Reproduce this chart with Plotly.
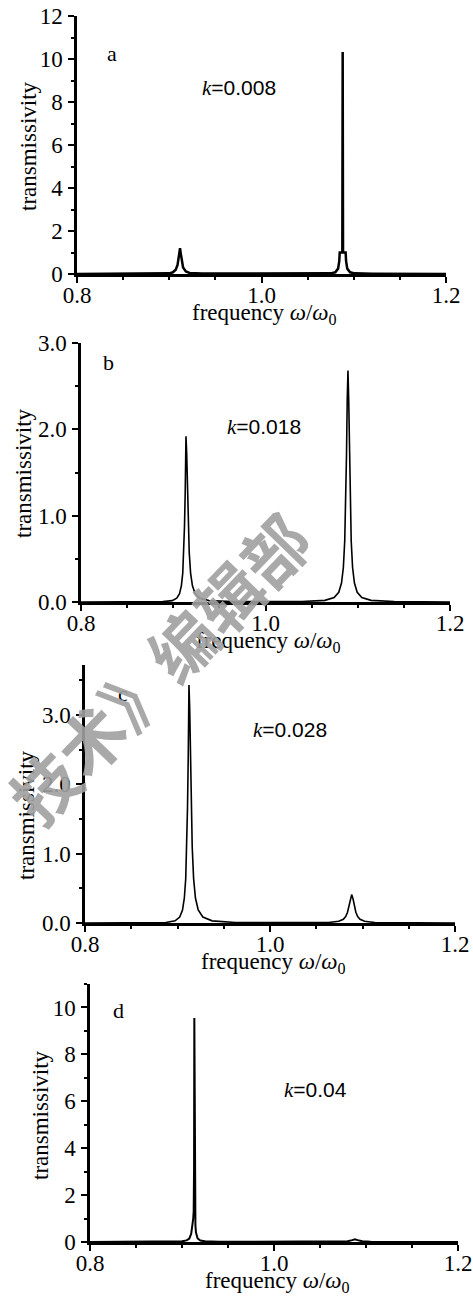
import plotly.graph_objects as go

W, H = 473, 1300

# ---------------- data ----------------
freq_a = [0.800, 0.880, 0.900, 0.904, 0.907, 0.909, 0.910, 0.911, 0.9117, 0.9125, 0.9135,
          0.915, 0.918, 0.922, 0.935, 1.060, 1.075, 1.080, 1.083, 1.0843, 1.0848, 1.0876,
          1.0880, 1.0884, 1.0912, 1.0917, 1.093, 1.096, 1.101, 1.120, 1.200]
trans_a = [0.00, 0.01, 0.03, 0.08, 0.20, 0.42, 0.70, 0.98, 1.20, 0.95, 0.60,
           0.30, 0.12, 0.05, 0.02, 0.01, 0.03, 0.08, 0.25, 0.60, 1.00, 1.00,
           10.33, 1.00, 1.00, 0.60, 0.25, 0.08, 0.03, 0.01, 0.00]

freq_b = [0.800, 0.8638, 0.8888, 0.8988, 0.9038, 0.9068, 0.9088, 0.9103, 0.9113, 0.9122, 0.9130,
          0.9138, 0.9146, 0.9154, 0.9163, 0.9173, 0.9188, 0.9208, 0.9238, 0.9288, 0.9388, 0.9638,
          1.0394, 1.0644, 1.0744, 1.0794, 1.0824, 1.0844, 1.0859, 1.0869, 1.0878, 1.0886,
          1.0894, 1.0902, 1.0910, 1.0919, 1.0929, 1.0944, 1.0964, 1.0994, 1.1044, 1.1144,
          1.1394, 1.200]
trans_b = [0.000, 0.002, 0.004, 0.016, 0.044, 0.096, 0.187, 0.335, 0.58, 0.88, 1.29,
           1.92, 1.71, 1.29, 0.88, 0.58, 0.335, 0.187, 0.096, 0.044, 0.016, 0.004,
           0.005, 0.019, 0.052, 0.113, 0.22, 0.40, 0.71, 1.11, 1.70, 2.34,
           2.68, 2.34, 1.70, 1.11, 0.71, 0.40, 0.22, 0.113, 0.052, 0.019,
           0.005, 0.000]

freq_c = [0.800, 0.8624, 0.8874, 0.8974, 0.9024, 0.9054, 0.9074, 0.9089, 0.9099, 0.9108, 0.9116,
          0.9124, 0.9132, 0.9140, 0.9149, 0.9159, 0.9174, 0.9194, 0.9224, 0.9274, 0.9374, 0.9624,
          1.0633, 1.0743, 1.0793, 1.0818, 1.0838, 1.0853, 1.0868, 1.0883, 1.0898, 1.0913,
          1.0928, 1.0948, 1.0973, 1.1023, 1.1133, 1.200]
trans_c = [0.000, 0.002, 0.008, 0.031, 0.086, 0.187, 0.36, 0.64, 1.10, 1.65, 2.38,
           3.43, 3.09, 2.38, 1.65, 1.10, 0.64, 0.36, 0.187, 0.086, 0.031, 0.008,
           0.008, 0.024, 0.054, 0.092, 0.155, 0.236, 0.346, 0.41, 0.346, 0.236,
           0.155, 0.092, 0.054, 0.024, 0.008, 0.000]

freq_d = [0.800, 0.880, 0.900, 0.905, 0.908, 0.910, 0.9115, 0.9122, 0.9127, 0.9131, 0.9134,
          0.9137, 0.9141, 0.9146, 0.9152, 0.917, 0.920, 0.925, 0.940, 1.070, 1.080, 1.085,
          1.088, 1.091, 1.096, 1.105, 1.200]
trans_d = [0.00, 0.01, 0.03, 0.07, 0.15, 0.35, 0.75, 1.00, 1.30, 3.10, 9.55,
           3.10, 1.00, 0.70, 0.40, 0.15, 0.06, 0.03, 0.01, 0.01, 0.03, 0.08,
           0.12, 0.08, 0.03, 0.01, 0.00]

panel_letters = ["a", "b", "c", "d"]
k_labels = ["0.008", "0.018", "0.028", "0.04"]
y_ranges = [[0, 12], [0, 3], [0, 3.72], [0, 11]]
y_dticks = [2, 1, 1, 2]
y_minor = [1, 0.5, 0.5, 1]
y_formats = ["d", ".1f", ".1f", "d"]
series = [(freq_a, trans_a), (freq_b, trans_b), (freq_c, trans_c), (freq_d, trans_d)]

# ---------------- layout geometry (pixels in the reference) ----------------
# (x_left, x_right, y_top, y_bottom)
boxes = [(77, 446, 16, 274), (81, 450, 343, 602), (85, 455, 665, 923), (90, 458, 984, 1242)]
line_widths = [2.5, 1.6, 1.6, 2.0]
ytitle_pos = [(28, 146), (24, 473), (26, 815), (40, 1115)]
letter_pos = [(112, 53), (108, 363), (123, 693), (118, 1010)]
k_pos = [(239, 88), (264, 427), (290, 730), (315, 1090)]


def px(x):
    return x / W


def py(y):
    return 1 - y / H


SERIF = "Liberation Serif"
SANS = "Liberation Sans"

fig = go.Figure()
annotations = []
layout = dict(
    width=W, height=H, margin=dict(l=0, r=0, t=0, b=0, autoexpand=False),
    paper_bgcolor="white", plot_bgcolor="white", showlegend=False,
    font=dict(family=SERIF, color="black", size=23),
)

for i, ((fx, ty), (x0, x1, y0, y1)) in enumerate(zip(series, boxes)):
    n = "" if i == 0 else str(i + 1)
    fig.add_trace(go.Scatter(x=fx, y=ty, mode="lines", xaxis="x" + n, yaxis="y" + n,
                             line=dict(color="black", width=line_widths[i]),
                             hoverinfo="skip", cliponaxis=False))
    layout["xaxis" + n] = dict(
        domain=[px(x0), px(x1)], anchor="y" + n, range=[0.8, 1.2],
        tickvals=[0.8, 1.0, 1.2], ticktext=["0.8", "1.0", "1.2"],
        ticks="outside", ticklen=6, tickwidth=2, tickcolor="black",
        minor=dict(dtick=0.05, tick0=0.8, ticks="outside", ticklen=3, tickwidth=1.5, tickcolor="black"),
        showline=True, linecolor="black", linewidth=2.5, showgrid=False, zeroline=False,
        tickfont=dict(family=SERIF, size=23, color="black"), ticklabelstandoff=-7,
        ticklabeloverflow="allow", fixedrange=True, automargin=False,
    )
    layout["yaxis" + n] = dict(
        domain=[py(y1), py(y0)], anchor="x" + n, range=y_ranges[i],
        dtick=y_dticks[i], tick0=0, tickformat=y_formats[i],
        ticks="outside", ticklen=6, tickwidth=2, tickcolor="black",
        minor=dict(dtick=y_minor[i], tick0=0, ticks="outside", ticklen=3, tickwidth=1.5, tickcolor="black"),
        showline=True, linecolor="black", linewidth=2.5, showgrid=False, zeroline=False,
        tickfont=dict(family=SERIF, size=23, color="black"), ticklabelstandoff=1,
        ticklabeloverflow="allow", fixedrange=True, automargin=False,
    )
    # axis titles
    annotations.append(dict(
        x=px((x0 + x1) / 2 + 3), y=py(y1 + 40), xref="paper", yref="paper",
        text="frequency <i>ω</i>/<i>ω</i><sub>0</sub>", showarrow=False,
        xanchor="center", yanchor="middle", font=dict(family=SERIF, size=23, color="black")))
    tx, tyy = ytitle_pos[i]
    annotations.append(dict(
        x=px(tx), y=py(tyy), xref="paper", yref="paper", text="transmissivity",
        textangle=-90, showarrow=False, xanchor="center", yanchor="middle",
        font=dict(family=SERIF, size=23, color="black")))
    lx, ly = letter_pos[i]
    annotations.append(dict(
        x=px(lx), y=py(ly), xref="paper", yref="paper", text=panel_letters[i],
        showarrow=False, xanchor="center", yanchor="middle",
        font=dict(family=SERIF, size=22, color="black")))
    kx, ky = k_pos[i]
    annotations.append(dict(
        x=px(kx), y=py(ky), xref="paper", yref="paper",
        text="<span style=\"font-family:'Liberation Serif'\"><i>k</i></span>=" + k_labels[i],
        showarrow=False, xanchor="center", yanchor="middle",
        font=dict(family=SANS, size=21, color="black")))

# watermark
annotations.append(dict(
    x=px(158), y=py(667), xref="paper", yref="paper", text="<b>技术》编辑部</b>",
    textangle=-46, showarrow=False, xanchor="center", yanchor="middle",
    font=dict(family="Noto Sans CJK SC", size=66, color="rgba(160,160,160,0.9)")))

layout["annotations"] = annotations
fig.update_layout(**layout)
# remove the browser's default 8px body margin so the figure fills the 473x1300 window exactly
fig.write_html("out.html", config={"displayModeBar": False},
               post_script="document.body.style.margin='0';document.body.style.overflow='hidden';")
